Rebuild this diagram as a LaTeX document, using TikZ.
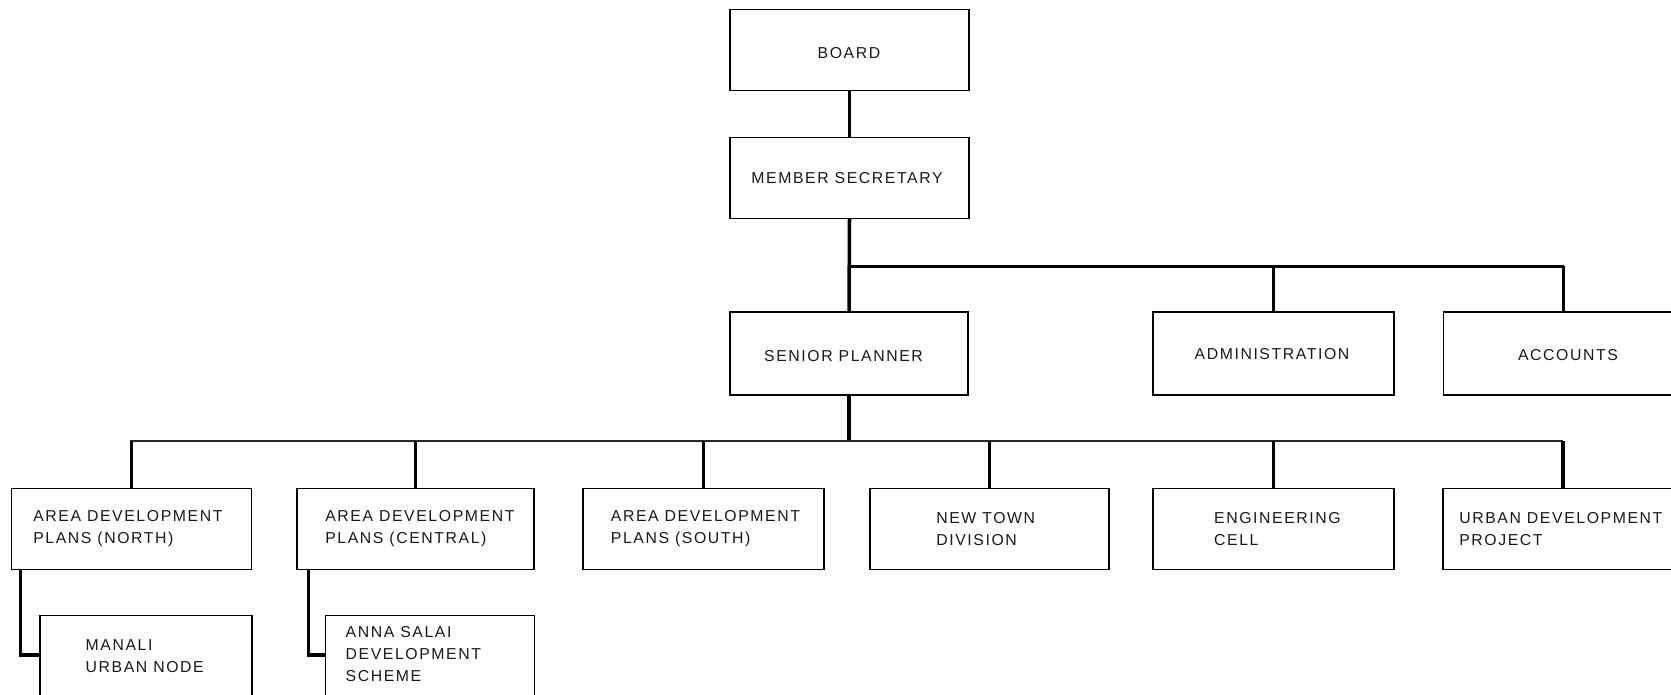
\documentclass[tikz,border=0pt]{standalone}
\usepackage{fontspec}
\newfontfamily\orgfont[LetterSpace=10]{Liberation Sans}
\begin{document}
\begin{tikzpicture}[x=0.02cm, y=-0.02cm,
  box/.style={draw=black, line width=0.7pt, minimum width=#1*0.02cm, minimum height=1.62cm, inner sep=0pt},
  box/.default=240,
  lbl/.style={font=\orgfont\fontsize{9}{12.5}\selectfont, text=black!90, inner sep=0pt, align=left},
  conn/.style={line width=2pt},
  busline/.style={line width=1.7pt},
  thinbus/.style={line width=1.2pt, black!85}
]
\useasboundingbox (0,0) rectangle (1671,695);
\clip (0,0) rectangle (1671,695);

% top of the hierarchy
\node[box=239] (board)  at (849.5,50)  {};
\node[box=239] (msec)   at (849.5,178) {};
\node[lbl] (tboard) at (849,53)  {BOARD};
\node[lbl] (tmsec)  at (847,178) {MEMBER SECRETARY};

% second level
\node[box=238, minimum height=1.66cm] (senior)   at (849,353.5)  {};
\node[box=241, minimum height=1.66cm] (admin)    at (1273.5,353.5) {};
\node[box=240, minimum height=1.66cm] (accounts) at (1563.5,353.5) {};
\node[lbl] (tsenior)   at (843.5,356) {SENIOR PLANNER};
\node[lbl] (tadmin)    at (1272,354)  {ADMINISTRATION};
\node[lbl] (taccounts) at (1568,355)  {ACCOUNTS};

% third level
\node[box=240] (north)   at (131.6,529) {};
\node[box=237] (central) at (415.5,529) {};
\node[box=241] (south)   at (703.5,529) {};
\node[box=239] (newtown) at (989.5,529) {};
\node[box=241] (eng)     at (1273.5,529) {};
\node[box=240] (urban)   at (1563,529)  {};
\node[lbl, anchor=west] (tnorth)   at (33,529)    {AREA DEVELOPMENT\\PLANS (NORTH)};
\node[lbl, anchor=west] (tcentral) at (325,529)   {AREA DEVELOPMENT\\PLANS (CENTRAL)};
\node[lbl, anchor=west] (tsouth)   at (610.6,529) {AREA DEVELOPMENT\\PLANS (SOUTH)};
\node[lbl, anchor=west] (tnewtown) at (936,529)   {NEW TOWN\\DIVISION};
\node[lbl, anchor=west] (teng)     at (1213.8,529){ENGINEERING\\CELL};
\node[lbl, anchor=west] (turban)   at (1459,529)  {URBAN DEVELOPMENT\\PROJECT};

% fourth level
\node[box=212, minimum height=2.4cm, anchor=north west] (manali) at (39.4,615) {};
\node[box=209, minimum height=2.4cm, anchor=north west] (anna)   at (325,615)  {};
\node[lbl, anchor=west] (tmanali) at (85.3,656)   {MANALI\\URBAN NODE};
\node[lbl, anchor=west] (tanna)   at (345.3,654.5) {ANNA SALAI\\DEVELOPMENT\\SCHEME};

% bus lines
\coordinate (busA) at (849,266.4);
\coordinate (busB) at (130,441);

\draw[conn] (board.south) -- (msec.south |- board.south) -- (msec.north);
\draw[conn] (msec.south) -- (senior.north);
\draw[busline] (busA) -- (accounts.north |- busA);
\draw[conn] (admin.north) -- (admin.north |- busA);
\draw[conn] (accounts.north) -- (accounts.north |- busA);

\draw[conn] (senior.south) -- (senior.south |- busB);
\draw[thinbus] (busB) -- (urban.north |- busB);
\foreach \b in {north,central,south,newtown,eng,urban}
  \draw[conn] (\b.north) -- (\b.north |- busB);

% branches to the fourth level
\draw[conn] ([xshift=0.19cm]north.south west) |- ([yshift=-0.8cm]manali.north west);
\draw[conn] ([xshift=0.24cm]central.south west) |- ([yshift=-0.8cm]anna.north west);
\end{tikzpicture}
\end{document}
